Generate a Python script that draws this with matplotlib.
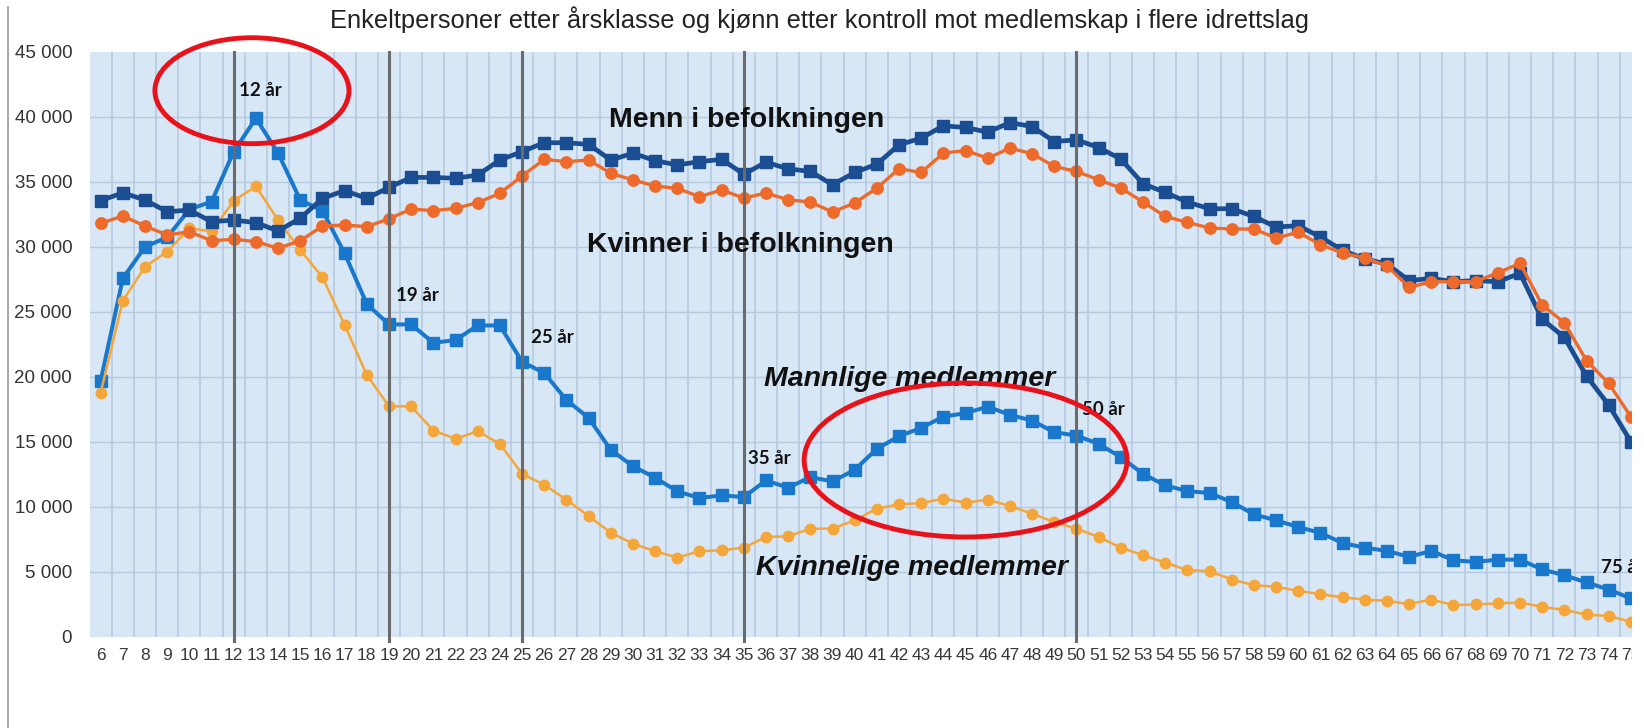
import matplotlib
matplotlib.use("Agg")
import matplotlib.pyplot as plt
from matplotlib.patches import Ellipse, Rectangle
from matplotlib.lines import Line2D
from matplotlib.ticker import FuncFormatter, FixedLocator
import numpy as np

ages = list(range(6, 76))

menn = [33540, 34150, 33590, 32690, 32820, 31920, 32050, 31850, 31210, 32190,
        33720, 34310, 33720, 34560, 35330, 35330, 35260, 35510, 36670, 37310,
        38000, 38000, 37870, 36670, 37190, 36620, 36290, 36540, 36720, 35580,
        36500, 35990, 35790, 34770, 35710, 36350, 37840, 38350, 39300, 39170,
        38810, 39550, 39240, 38090, 38220, 37630, 36740, 34840, 34180, 33430,
        32920, 32920, 32330, 31510, 31620, 30750, 29720, 29060, 28670, 27390,
        27570, 27310, 27390, 27310, 27950, 24420, 23030, 20050, 17820, 15000]

kvinner = [31800, 32360, 31590, 30900, 31150, 30460, 30570, 30390, 29880, 30460,
           31590, 31670, 31540, 32150, 32900, 32770, 32950, 33390, 34110, 35440,
           36720, 36540, 36670, 35650, 35130, 34670, 34490, 33850, 34360, 33740,
           34130, 33610, 33440, 32670, 33360, 34510, 36000, 35710, 37200, 37400,
           36810, 37580, 37150, 36170, 35790, 35150, 34510, 33440, 32330, 31870,
           31440, 31360, 31360, 30670, 31110, 30160, 29520, 29140, 28520, 26880,
           27310, 27310, 27310, 28000, 28720, 25520, 24150, 21230, 19490, 16920]

mannlige = [19700, 27570, 30000, 30720, 32880, 33460, 37320, 39880, 37200, 33590,
            32770, 29490, 25590, 24020, 24020, 22610, 22820, 23940, 23940, 21150,
            20280, 18210, 16830, 14370, 13120, 12230, 11180, 10670, 10870, 10740,
            12020, 11460, 12280, 11940, 12840, 14450, 15420, 16060, 16930, 17190,
            17700, 17060, 16620, 15730, 15470, 14830, 13810, 12530, 11640, 11200,
            11050, 10360, 9410, 8950, 8440, 7980, 7210, 6850, 6600, 6140,
            6600, 5880, 5750, 5930, 5930, 5170, 4730, 4170, 3630, 2940]

kvinnelige = [18770, 25850, 28460, 29620, 31420, 31180, 33540, 34640, 32050, 29750,
              27650, 23980, 20130, 17720, 17720, 15860, 15220, 15810, 14830, 12530,
              11690, 10540, 9280, 8000, 7160, 6570, 6090, 6570, 6650, 6850,
              7670, 7720, 8310, 8310, 8950, 9850, 10180, 10280, 10610, 10310,
              10540, 10050, 9460, 8820, 8310, 7670, 6850, 6270, 5700, 5120,
              5040, 4400, 3960, 3840, 3530, 3270, 3020, 2860, 2760, 2510,
              2860, 2430, 2480, 2560, 2630, 2300, 2050, 1710, 1590, 1150]

marked_ages = [12, 19, 25, 35, 50]
age_labels = ["12 år", "19 år", "25 år", "35 år", "50 år", "75 år"]
yticks = [0, 5000, 10000, 15000, 20000, 25000, 30000, 35000, 40000, 45000]

title = "Enkeltpersoner etter årsklasse og kjønn etter kontroll mot medlemskap i flere idrettslag"

C_MENN = "#1b4d93"
C_KVINNER = "#ee6a2a"
C_MANNLIGE = "#1a78cc"
C_KVINNELIGE = "#f5a63a"
BG = "#d8e7f6"
GRID = "#b6cadf"

W, H = 1644, 728
fig = plt.figure(figsize=(W / 100, H / 100), dpi=100)
ax_left, ax_right = 89.6, 1632.0
ax_top, ax_bottom = 51.7, 636.7
ax = fig.add_axes([ax_left / W, 1 - ax_bottom / H, (ax_right - ax_left) / W,
                   (ax_bottom - ax_top) / H])
ax.set_facecolor(BG)
ax.set_xlim(5.5, 75.05)
ax.set_ylim(0, 45000)

for s in ax.spines.values():
    s.set_visible(False)

# grid
for b in np.arange(6.5, 75.5, 1.0):
    ax.axvline(b, color=GRID, lw=1.2, zorder=0.5)
for t in yticks[1:-1]:
    ax.axhline(t, color=GRID, lw=1.0, zorder=0.5)

ax.plot(ages, mannlige, color=C_MANNLIGE, lw=2.9, marker="s", ms=8.0, zorder=3)
ax.plot(ages, kvinnelige, color=C_KVINNELIGE, lw=1.8, marker="o", ms=7.5, zorder=3.1)
ax.plot(ages, menn, color=C_MENN, lw=3.4, marker="s", ms=8.2, zorder=3.2)
ax.plot(ages, kvinner, color=C_KVINNER, lw=2.4, marker="o", ms=8.2, zorder=3.3)

for a in marked_ages:
    ax.axvline(a, ymin=-0.008, ymax=1.0, color="#6b6b6b", lw=2.2, zorder=4, clip_on=False)

ax.xaxis.set_major_locator(FixedLocator(ages))
ax.set_xticklabels([str(a) for a in ages])
ax.yaxis.set_major_locator(FixedLocator(yticks))
ax.yaxis.set_major_formatter(FuncFormatter(lambda v, p: f"{int(v):,}".replace(",", " ")))
ax.tick_params(axis="x", length=0, pad=8, labelsize=12.5, labelcolor="#383838")
ax.tick_params(axis="y", length=0, pad=12.5, labelsize=13.5, labelcolor="#333333")
for lab in ax.get_xticklabels() + ax.get_yticklabels():
    lab.set_family("Liberation Sans")

fig.text(0.4985, 1 - 20 / H, title, ha="center", va="center", fontsize=18.4,
         family="Liberation Sans", color="#222222")

lf = dict(family="Lato", fontweight="bold", fontsize=13.5, color="#111111",
          va="center", ha="left", zorder=6)
ax.text(12.25, 42000, age_labels[0], **lf)
ax.text(19.32, 26210, age_labels[1], **lf)
ax.text(25.4, 23050, age_labels[2], **lf)
ax.text(35.2, 13670, age_labels[3], **lf)
ax.text(50.25, 17440, age_labels[4], clip_on=False, **lf)
ax.text(73.65, 5360, age_labels[5], clip_on=False, **lf)

bf = dict(family="Liberation Sans", fontweight="bold", fontsize=20.5, color="#111111",
          va="center", ha="center", zorder=6)
ax.text(35.12, 39750, "Menn i befolkningen", **bf)
ax.text(34.85, 30130, "Kvinner i befolkningen", **bf)
ax.text(42.47, 19800, "Mannlige medlemmer", style="italic", **bf)
ax.text(42.57, 5260, "Kvinnelige medlemmer", style="italic", **bf)

ax.add_patch(Ellipse((12.82, 42000), 8.75, 8150, fill=False, edgecolor="#e8121a",
                     lw=3.5, zorder=7, clip_on=False))
ax.add_patch(Ellipse((45.0, 13592), 14.56, 11846, fill=False, edgecolor="#e8121a",
                     lw=3.5, zorder=7, clip_on=False))

# cropped right margin of the original picture
fig.add_artist(Rectangle((ax_right / W, 0), 1 - ax_right / W, 1, transform=fig.transFigure,
                         facecolor="white", edgecolor="none", zorder=20))
fig.add_artist(Line2D([8 / W, 8 / W], [0, 1 - 7 / H], transform=fig.transFigure,
                      color="#a0a0a0", lw=1.3, zorder=21))

fig.savefig("out.png", dpi=100, facecolor="white")
